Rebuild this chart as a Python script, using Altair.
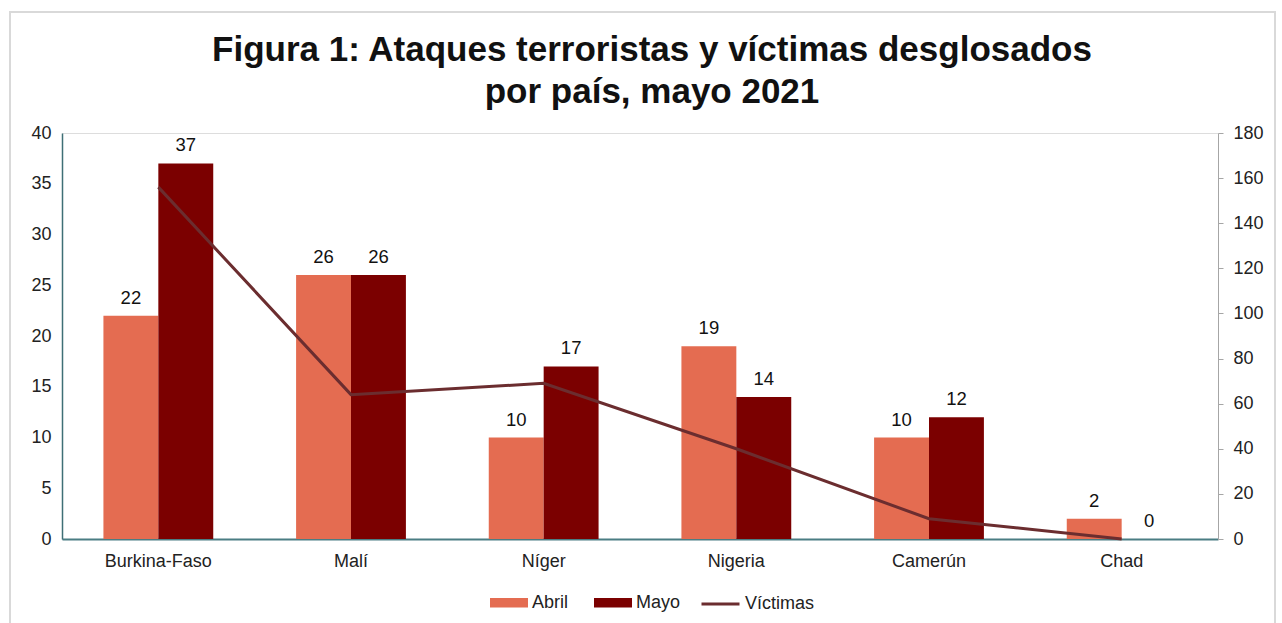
import altair as alt
import pandas as pd

paises = ["Burkina-Faso", "Malí", "Níger", "Nigeria", "Camerún", "Chad"]
abril = [22, 26, 10, 19, 10, 2]
mayo = [37, 26, 17, 14, 12, 0]
victimas = [156, 64, 69, 40, 9, 0]
meses = ["Abril", "Mayo"]
colores_barras = ["#E46C51", "#7B0000"]
color_linea = "#6B2D2F"

rows = []
for p, a, m in zip(paises, abril, mayo):
    rows.append({"País": p, "Mes": "Abril", "Ataques": a})
    rows.append({"País": p, "Mes": "Mayo", "Ataques": m})
df_bars = pd.DataFrame(rows)
df_line = pd.DataFrame({"País": paises, "Víctimas": victimas, "Serie": "Víctimas"})

FONT = "Liberation Sans"
W, H = 1156, 406

x_enc = alt.X("País:N", sort=paises,
              scale=alt.Scale(paddingInner=0.43, paddingOuter=0.215),
              axis=alt.Axis(title=None, labelAngle=0, ticks=False, labelPadding=13,
                            labelFontSize=18, labelColor="#222", labelFont=FONT,
                            domainColor="#4A7D83", domainWidth=2))

y_left = alt.Y("Ataques:Q",
               scale=alt.Scale(domain=[0, 40]),
               axis=alt.Axis(title=None, values=list(range(0, 41, 5)), grid=False,
                             ticks=False, labelPadding=11, labelFontSize=18,
                             labelColor="#222", labelFont=FONT,
                             domainColor="#3F6F76", domainWidth=1.5))

bars = alt.Chart(df_bars).mark_bar().encode(
    x=x_enc,
    xOffset=alt.XOffset("Mes:N", sort=meses, scale=alt.Scale(paddingInner=0, paddingOuter=0)),
    y=y_left,
    color=alt.Color("Mes:N", sort=meses,
                    scale=alt.Scale(domain=meses, range=colores_barras),
                    legend=alt.Legend(title=None, orient="none", direction="horizontal",
                                      legendX=437.5, legendY=460, padding=0,
                                      symbolType="M-2,-0.5H2V0.5H-2Z", symbolSize=361,
                                      symbolStrokeWidth=0, labelOffset=13.5,
                                      columnPadding=25, labelFontSize=18,
                                      labelColor="#222", labelFont=FONT)),
)

text = alt.Chart(df_bars).mark_text(baseline="bottom", dy=-8, fontSize=18.5,
                                    font=FONT, color="#111").encode(
    x=alt.X("País:N", sort=paises),
    xOffset=alt.XOffset("Mes:N", sort=meses),
    y=alt.Y("Ataques:Q"),
    text=alt.Text("Ataques:Q"),
)

left = alt.layer(bars, text)

line = alt.Chart(df_line).mark_line(strokeWidth=3).encode(
    x=alt.X("País:N", sort=paises),
    y=alt.Y("Víctimas:Q", scale=alt.Scale(domain=[0, 180]),
            axis=alt.Axis(title=None, orient="right", values=list(range(0, 181, 20)),
                          grid=False, tickSize=5, tickColor="#A6A6A6",
                          domainColor="#A6A6A6", labelPadding=10, labelFontSize=18,
                          labelColor="#222", labelFont=FONT)),
    color=alt.Color("Serie:N", scale=alt.Scale(domain=["Víctimas"], range=[color_linea]),
                    legend=alt.Legend(title=None, orient="none", direction="horizontal",
                                      legendX=647.5, legendY=460, padding=0,
                                      symbolType="M-2,0H2", symbolSize=361,
                                      symbolStrokeWidth=3, labelOffset=13.5,
                                      labelFontSize=18, labelColor="#222", labelFont=FONT)),
)

border = alt.Chart(pd.DataFrame({"k": [0]})).mark_rect(
    fill="transparent", stroke="#D9D9D9", strokeWidth=2
).encode(
    x=alt.value(-52), x2=alt.value(1213), y=alt.value(-121), y2=alt.value(520)
)

chart = alt.layer(left, line, border).resolve_scale(
    y="independent", color="independent"
).resolve_legend(color="independent").properties(
    width=W, height=H,
    title=alt.TitleParams(
        text=["Figura 1: Ataques terroristas y víctimas desglosados", "por país, mayo 2021"],
        font=FONT, fontSize=35, fontWeight="bold", color="#111",
        anchor="middle", lineHeight=42, offset=0, dy=99, dx=12),
    autosize=alt.AutoSizeParams(type="none"),
    padding={"left": 62, "top": 133, "right": 64, "bottom": 84},
).configure_view(stroke=None).configure(background="white")

chart.save("out.html", embed_options={"renderer": "svg", "actions": False})
